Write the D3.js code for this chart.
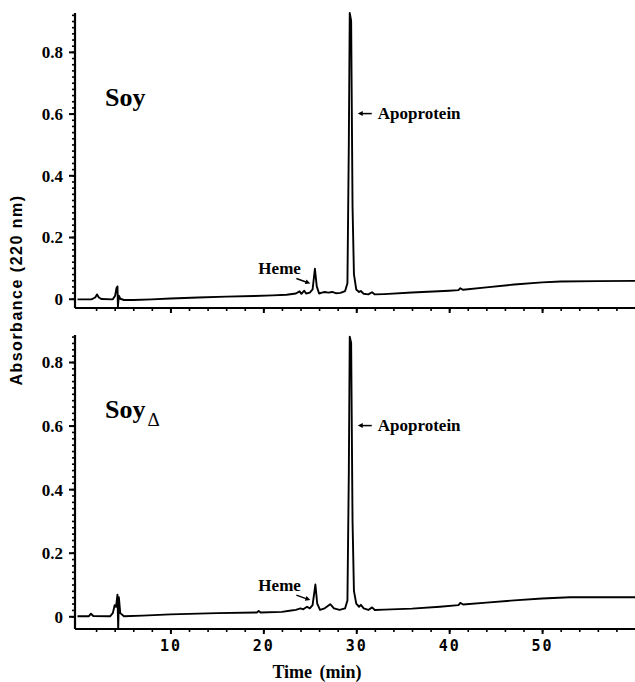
<!DOCTYPE html>
<html>
<head>
<meta charset="utf-8">
<script src="https://cdn.jsdelivr.net/npm/d3@7"></script>
<style>
  body { margin: 0; background: #fff; }
  svg { display: block; }
  .ylab { font-family: "Liberation Serif", "Times New Roman", serif; font-weight: bold; font-size: 17px; }
  .xlab { font-family: "DejaVu Sans Mono", monospace; font-weight: bold; font-size: 15px; letter-spacing: 2px; }
  .note { font-family: "Liberation Serif", "Times New Roman", serif; font-weight: bold; font-size: 17px; }
</style>
</head>
<body>
<script>
'use strict';

// Soy chromatogram: retention time (min) and absorbance
const soyTime = [0, 1.5, 1.9, 2.1, 2.3, 2.6, 3.8, 4.05, 4.2, 4.3, 4.35, 4.45, 4.6, 5, 6, 8, 10, 13, 16, 19, 21, 22.5,
  23.5, 23.9, 24.1, 24.4, 24.6, 25.0, 25.3, 25.55, 25.75, 26.0, 26.3, 26.6, 27.0, 27.4, 27.8, 28.3, 28.8,
  29.05, 29.2, 29.3, 29.45, 29.6, 29.75, 30.0, 30.3, 30.5, 30.8, 31.3, 31.7, 32.0, 33, 36, 40, 41.0, 41.2, 41.5,
  44, 47, 50, 52, 56, 60];
const soyAbs = [-0.002, -0.002, 0.004, 0.014, 0.004, -0.001, -0.002, 0.01, 0.035, 0.04, -0.025, 0.01, 0.0, -0.004, -0.004, -0.002, 0.001, 0.004, 0.007, 0.009, 0.011, 0.013,
  0.017, 0.024, 0.016, 0.026, 0.017, 0.02, 0.03, 0.097, 0.04, 0.017, 0.02, 0.022, 0.02, 0.022, 0.018, 0.019, 0.025,
  0.05, 0.5, 0.926, 0.9, 0.3, 0.08, 0.03, 0.022, 0.025, 0.016, 0.014, 0.021, 0.014, 0.015, 0.02, 0.026, 0.028, 0.034, 0.029,
  0.037, 0.046, 0.053, 0.056, 0.057, 0.058];

// SoyΔ chromatogram
const soyDTime = [0, 1.2, 1.45, 1.7, 3.5, 3.8, 4.0, 4.15, 4.3, 4.38, 4.45, 4.6, 5, 7, 10, 15, 19.3, 19.5, 19.7, 22, 23,
  23.5, 24, 24.3, 24.7, 25.0, 25.3, 25.6, 25.8, 26.1, 26.6, 27.2, 27.6, 28.2, 28.8,
  29.05, 29.2, 29.3, 29.45, 29.6, 29.75, 30.0, 30.3, 30.5, 30.8, 31.3, 31.7, 32.0, 33, 36, 39, 41.0, 41.2, 41.5,
  44, 47, 50, 53, 60];
const soyDAbs = [0, 0, 0.008, 0.001, 0, 0.01, 0.035, 0.03, 0.068, -0.04, 0.06, 0.01, 0, 0.002, 0.006, 0.01, 0.012, 0.017, 0.012, 0.014, 0.018,
  0.02, 0.025, 0.022, 0.03, 0.025, 0.035, 0.1, 0.04, 0.02, 0.025, 0.038, 0.025, 0.02, 0.025,
  0.05, 0.45, 0.88, 0.86, 0.3, 0.08, 0.04, 0.03, 0.036, 0.025, 0.02, 0.028, 0.02, 0.021, 0.024, 0.03, 0.035, 0.042, 0.037,
  0.043, 0.05, 0.056, 0.06, 0.06];

const xMajor = [10, 20, 30, 40, 50];
const yMajor = [0, 0.2, 0.4, 0.6, 0.8];
const yMajorLabels = ['0', '0.2', '0.4', '0.6', '0.8'];

const hemeTime = 25.6, apoTime = 29.3;

const width = 635, height = 682;
const svg = d3.select('body').append('svg')
  .attr('width', width).attr('height', height);

const x = d3.scaleLinear().domain([-0.27, 60]).range([75, 635]);

const panels = [
  {time: soyTime, abs: soyAbs, domain: [-0.03, 0.926], range: [308, 13], label: 'Soy', delta: false, showX: false},
  {time: soyDTime, abs: soyDAbs, domain: [-0.04, 0.885], range: [629, 335], label: 'Soy', delta: true, showX: true}
];

panels.forEach(p => {
  const y = d3.scaleLinear().domain(p.domain).range(p.range);
  const g = svg.append('g');

  // y axis: minor ticks each 0.02, labelled every 0.2
  const yMinor = d3.range(0, p.domain[1] + 1e-9, 0.02);
  g.append('g').attr('transform', `translate(${x.range()[0]},0)`)
    .call(d3.axisLeft(y).tickValues(yMinor).tickSize(3).tickFormat(''))
    .call(a => a.select('.domain').remove())
    .selectAll('line').attr('stroke-width', 1.6);
  g.append('g').attr('transform', `translate(${x.range()[0]},0)`)
    .call(d3.axisLeft(y).tickValues(yMajor).tickSize(6).tickPadding(6).tickFormat((d, i) => yMajorLabels[i]))
    .call(a => a.select('.domain').remove())
    .call(a => a.selectAll('line').attr('stroke-width', 2))
    .call(a => a.selectAll('text').attr('class', 'ylab').attr('dy', '0.35em'));
  g.append('line')
    .attr('x1', x.range()[0]).attr('x2', x.range()[0])
    .attr('y1', p.range[0]).attr('y2', p.range[1])
    .attr('stroke', '#000').attr('stroke-width', 2.2);

  // x axis
  const xMinor = d3.range(2, 60, 2);
  g.append('g').attr('transform', `translate(0,${p.range[0]})`)
    .call(d3.axisBottom(x).tickValues(xMinor).tickSize(3).tickFormat(''))
    .call(a => a.select('.domain').remove())
    .selectAll('line').attr('stroke-width', 1.6);
  g.append('g').attr('transform', `translate(0,${p.range[0]})`)
    .call(d3.axisBottom(x).tickValues(xMajor).tickSize(5).tickPadding(6).tickFormat(p.showX ? d3.format('d') : ''))
    .call(a => a.select('.domain').remove())
    .call(a => a.selectAll('line').attr('stroke-width', 2))
    .call(a => a.selectAll('text').attr('class', 'xlab'));
  g.append('line')
    .attr('x1', x.range()[0]).attr('x2', x.range()[1])
    .attr('y1', p.range[0]).attr('y2', p.range[0])
    .attr('stroke', '#000').attr('stroke-width', 2.2);

  // trace
  const pts = p.time.map((t, i) => [t, p.abs[i]]);
  g.append('path')
    .datum(pts)
    .attr('fill', 'none')
    .attr('stroke', '#000')
    .attr('stroke-width', 1.9)
    .attr('stroke-linejoin', 'round')
    .attr('d', d3.line().x(d => x(d[0])).y(d => y(d[1])));

  // panel label
  const lbl = g.append('text')
    .attr('x', 105).attr('y', y(0.625))
    .attr('font-family', '"Liberation Serif", "Times New Roman", serif')
    .attr('font-weight', 'bold').attr('font-size', 26)
    .text(p.label);
  if (p.delta) {
    lbl.append('tspan').attr('dy', 8).attr('dx', 2).attr('font-size', 19).attr('font-weight', 'normal').text('Δ');
  }

  // apoprotein annotation
  const ay = y(0.6);
  const ax0 = x(apoTime) + 8, ax1 = ax0 + 14;
  g.append('line').attr('x1', ax0 + 3).attr('x2', ax1).attr('y1', ay).attr('y2', ay)
    .attr('stroke', '#000').attr('stroke-width', 1.5);
  g.append('path')
    .attr('d', `M${ax0},${ay} l5,-2.5 l0,5 z`).attr('fill', '#000');
  g.append('text').attr('class', 'note')
    .attr('x', ax1 + 6).attr('y', ay + 5)
    .text('Apoprotein');

  // heme annotation
  const hy = y(0.095);
  g.append('text').attr('class', 'note')
    .attr('x', x(hemeTime) - 57).attr('y', hy + 5)
    .text('Heme');
  const hx1 = x(hemeTime) - 5, hy1 = hy + 14;
  const hx0 = hx1 - 14, hy0 = hy1 - 5;
  g.append('line').attr('x1', hx0).attr('y1', hy0).attr('x2', hx1 - 3).attr('y2', hy1 - 1)
    .attr('stroke', '#000').attr('stroke-width', 1.5);
  const ang = Math.atan2(hy1 - hy0, hx1 - hx0) * 180 / Math.PI;
  g.append('path')
    .attr('d', 'M0,0 l-5,-2.5 l0,5 z')
    .attr('transform', `translate(${hx1},${hy1}) rotate(${ang})`)
    .attr('fill', '#000');
});

// axis titles
svg.append('text')
  .attr('transform', 'translate(22,290) rotate(-90)')
  .attr('text-anchor', 'middle')
  .attr('font-family', '"Liberation Sans", Arial, sans-serif')
  .attr('font-weight', 'bold').attr('font-size', 16)
  .attr('letter-spacing', 1.5)
  .text('Absorbance (220 nm)');

svg.append('text')
  .attr('x', 317).attr('y', 678)
  .attr('text-anchor', 'middle')
  .attr('font-family', '"Liberation Serif", "Times New Roman", serif')
  .attr('font-weight', 'bold').attr('font-size', 18)
  .attr('word-spacing', 3)
  .text('Time (min)');
</script>
</body>
</html>
